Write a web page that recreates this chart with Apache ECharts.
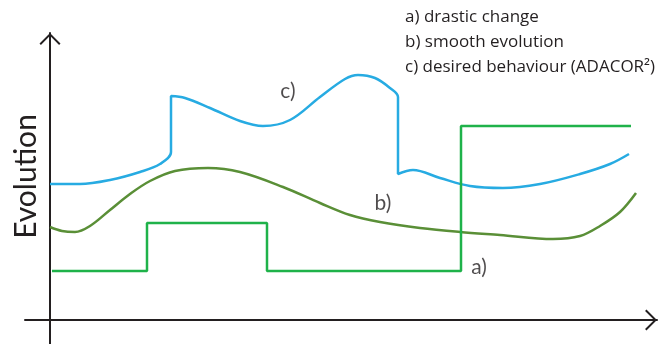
<!DOCTYPE html>
<html>
<head>
<meta charset="utf-8">
<script src="https://cdn.jsdelivr.net/npm/echarts@6/dist/echarts.min.js"></script>
<style>
  html, body { margin: 0; padding: 0; background: #fff; }
  #main { width: 672px; height: 344px; }
</style>
</head>
<body>
<div id="main"></div>
<script>
// 数据 (横轴=时间, 纵轴=Evolution, 原点在两轴交点)
var timeA = [2, 97, 97, 217, 217, 411, 411, 581]
var valueA = [49, 49, 97, 97, 49, 49, 194, 194]

var timeB = [0, 12, 25, 40, 60, 80, 100, 125, 158, 190, 233, 270, 300, 330, 370, 410, 450, 503, 530, 550, 570, 586]
var valueB = [93, 89, 88, 94, 110, 126, 139, 149, 152, 148, 133, 117, 105, 98, 92, 88, 85, 81, 84, 94, 108, 127]

var timeC = [0, 30, 60, 90, 110, 121, 121, 135, 160, 190, 213, 240, 270, 295, 308, 325, 340, 348, 348, 363, 390, 420, 453, 490, 530, 560, 579]
var valueC = [136, 136, 140, 148, 156, 168, 224, 222, 212, 199, 194, 200, 223, 241, 245, 242, 232, 223, 146, 150, 142, 134, 132, 136, 146, 156, 166]

// 曲线标注
var labelText = ['a)', 'b)', 'c)']
var labelTime = [429, 333, 238]
var labelValue = [53, 117, 229]

var legendLines = ['a) drastic change', 'b) smooth evolution', 'c) desired behaviour (ADACOR\u00B2)']

function zip(xs, ys) {
  var out = []
  for (var i = 0; i < xs.length; i++) {
    out.push([xs[i], ys[i]])
  }
  return out
}

var ink = '#231f20'
var font = 'Lato'
// 空心箭头 (朝上, ECharts 自动旋转)
var chevron = 'path://M0,10.5 L10.5,0 L21,10.5 L19.6,11.9 L10.5,2.8 L1.4,11.9 Z'

var myChart = echarts.init(document.getElementById('main'))

var labelData = []
for (var i = 0; i < labelText.length; i++) {
  labelData.push([labelTime[i], labelValue[i], labelText[i]])
}

var option = {
  animation: false,
  title: {
    text: legendLines.join('\n'),
    left: 405,
    top: 5,
    padding: 0,
    textStyle: {
      fontFamily: 'Open Sans',
      fontSize: 17,
      fontWeight: 'normal',
      color: ink,
      lineHeight: 25
    }
  },
  grid: {
    left: 25,
    right: 15,
    top: 33,
    bottom: 0,
    outerBoundsMode: 'none',
    containLabel: false
  },
  xAxis: {
    type: 'value',
    min: -25,
    max: 607,
    axisLine: {
      onZero: true,
      symbol: ['none', chevron],
      symbolSize: [21, 12],
      symbolOffset: [0, -6],
      lineStyle: { color: ink, width: 2 }
    },
    axisTick: { show: false },
    axisLabel: { show: false },
    splitLine: { show: false }
  },
  yAxis: {
    type: 'value',
    min: -24,
    max: 287,
    name: 'Evolution',
    nameLocation: 'middle',
    nameRotate: 90,
    nameGap: -16,
    nameTextStyle: {
      fontFamily: font,
      fontSize: 30,
      color: ink,
      padding: [0, 0, 0, 24]
    },
    axisLine: {
      onZero: true,
      symbol: ['none', chevron],
      symbolSize: [21, 12],
      symbolOffset: [0, -6],
      lineStyle: { color: ink, width: 2 }
    },
    axisTick: { show: false },
    axisLabel: { show: false },
    splitLine: { show: false }
  },
  series: [
    {
      name: 'b',
      type: 'line',
      data: zip(timeB, valueB),
      smooth: 0.35,
      symbol: 'none',
      lineStyle: { color: '#5a8f37', width: 2.5 }
    },
    {
      name: 'c',
      type: 'line',
      data: zip(timeC, valueC),
      smooth: 0.35,
      symbol: 'none',
      lineStyle: { color: '#27abe2', width: 2.5 }
    },
    {
      name: 'a',
      type: 'line',
      data: zip(timeA, valueA),
      symbol: 'none',
      lineStyle: { color: '#1fb24a', width: 2.5 }
    },
    {
      name: 'labels',
      type: 'scatter',
      data: labelData,
      symbolSize: 0,
      label: {
        show: true,
        position: 'inside',
        formatter: function (p) { return p.value[2] },
        fontFamily: font,
        fontSize: 21,
        color: ink
      }
    }
  ]
}

myChart.setOption(option)
</script>
</body>
</html>
